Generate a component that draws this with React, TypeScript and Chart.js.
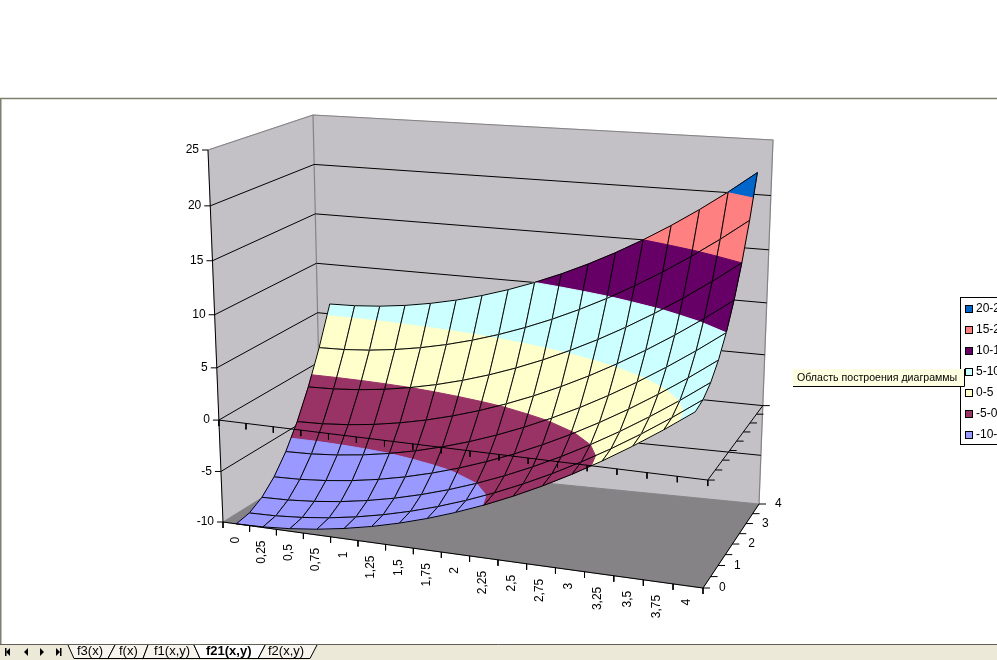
import React, { useEffect, useRef } from "react";
import { Chart, registerables } from "chart.js";

Chart.register(...registerables);

// ---- data ----
const xLabels = ["0", "0,25", "0,5", "0,75", "1", "1,25", "1,5", "1,75", "2", "2,25", "2,5", "2,75", "3", "3,25", "3,5", "3,75", "4"];
const yLabels = ["0", "1", "2", "3", "4"];
const zLabels = [-10, -5, 0, 5, 10, 15, 20, 25];

const zAtY0 = [-10, -9.94, -9.75, -9.44, -9, -8.44, -7.75, -6.94, -6, -4.94, -3.75, -2.44, -1, 0.56, 2.25, 4.06, 6];
const zAtY05 = [-9.75, -9.69, -9.5, -9.19, -8.75, -8.19, -7.5, -6.69, -5.75, -4.69, -3.5, -2.19, -0.75, 0.81, 2.5, 4.31, 6.25];
const zAtY1 = [-9, -8.94, -8.75, -8.44, -8, -7.44, -6.75, -5.94, -5, -3.94, -2.75, -1.44, 0, 1.56, 3.25, 5.06, 7];
const zAtY15 = [-7.75, -7.69, -7.5, -7.19, -6.75, -6.19, -5.5, -4.69, -3.75, -2.69, -1.5, -0.19, 1.25, 2.81, 4.5, 6.31, 8.25];
const zAtY2 = [-6, -5.94, -5.75, -5.44, -5, -4.44, -3.75, -2.94, -2, -0.94, 0.25, 1.56, 3, 4.56, 6.25, 8.06, 10];
const zAtY25 = [-3.75, -3.69, -3.5, -3.19, -2.75, -2.19, -1.5, -0.69, 0.25, 1.31, 2.5, 3.81, 5.25, 6.81, 8.5, 10.31, 12.25];
const zAtY3 = [-1, -0.94, -0.75, -0.44, 0, 0.56, 1.25, 2.06, 3, 4.06, 5.25, 6.56, 8, 9.56, 11.25, 13.06, 15];
const zAtY35 = [2.25, 2.31, 2.5, 2.81, 3.25, 3.81, 4.5, 5.31, 6.25, 7.31, 8.5, 9.81, 11.25, 12.81, 14.5, 16.31, 18.25];
const zAtY4 = [6, 6.06, 6.25, 6.56, 7, 7.56, 8.25, 9.06, 10, 11.06, 12.25, 13.56, 15, 16.56, 18.25, 20.06, 22];
const surfaceRows = [zAtY0, zAtY05, zAtY1, zAtY15, zAtY2, zAtY25, zAtY3, zAtY35, zAtY4];

const bandNames = ["20-25", "15-20", "10-15", "5-10", "0-5", "-5-0", "-10--5"];
const bandLows = [20, 15, 10, 5, 0, -5, -10];
const bandColors = ["#0066CC", "#FF8080", "#660066", "#CCFFFF", "#FFFFCC", "#993366", "#9999FF"];
const sheetTabs = ["f3(x)", "f(x)", "f1(x,y)", "f21(x,y)", "f2(x,y)"];
const tooltipText = "Область построения диаграммы";

// ---- layout: the 3D box as it appears in the window ----
type P = [number, number];
const BOX: Record<string, P> = {
  b00: [223, 522], b10: [703, 588], b11: [759, 504], b01: [321, 461],
  t00: [208, 150], t10: [720.5, 194], t11: [773, 140], t01: [313, 115],
};
const warpX = 1.065, warpY = 0.91;
const warp = (t: number, r: number) => t / (t + r * (1 - t));
const lerp = (a: number, b: number, t: number) => a + (b - a) * t;

// u: 0..1 along the category axis, v: 0..1 along the series axis, z: value
function project(u: number, v: number, z: number) {
  const a = warp(u, warpX), b = warp(v, warpY);
  // perspective on the vertical axis differs per corner of the box
  const warpZ = lerp(lerp(1.06, 1.06, a), lerp(1.0, 1.08, a), b);
  const c = warp((z + 10) / 35, warpZ);
  const corner = (k: 0 | 1) => {
    const f = lerp(lerp(BOX.b00[k], BOX.b10[k], a), lerp(BOX.b01[k], BOX.b11[k], a), b);
    const g = lerp(lerp(BOX.t00[k], BOX.t10[k], a), lerp(BOX.t01[k], BOX.t11[k], a), b);
    return lerp(f, g, c);
  };
  return { x: corner(0), y: corner(1) };
}

const nX = xLabels.length;
const nY = surfaceRows.length;
const uCell = (i: number) => (i + 0.5) / nX; // surface points sit mid-category
const vRow = (j: number) => j / (nY - 1);

type V = { i: number; j: number; z: number };
function clip(poly: V[], keep: (z: number) => boolean, level: number) {
  const out: V[] = [];
  for (let k = 0; k < poly.length; k++) {
    const a = poly[k], b = poly[(k + 1) % poly.length];
    const ka = keep(a.z), kb = keep(b.z);
    if (ka) out.push(a);
    if (ka !== kb) {
      const t = (level - a.z) / (b.z - a.z);
      out.push({ i: lerp(a.i, b.i, t), j: lerp(a.j, b.j, t), z: level });
    }
  }
  return out;
}
const toXY = (v: V) => project(uCell(v.i), vRow(v.j), v.z);

function buildDatasets() {
  const ds: any[] = [];
  const fillPoly = (pts: { x: number; y: number }[], color: string, border = color, bw = 1) =>
    ds.push({ data: [...pts, pts[0]], showLine: true, fill: "shape", backgroundColor: color, borderColor: border, borderWidth: bw, pointRadius: 0, tension: 0 });
  const line = (pts: { x: number; y: number }[], color = "#000000", bw = 1) =>
    ds.push({ data: pts, showLine: true, fill: false, borderColor: color, borderWidth: bw, pointRadius: 0, tension: 0 });

  // walls and floor
  const wallColor = "#C3C1C5", floorColor = "#858385", edge = "#858385";
  fillPoly([project(0, 0, -10), project(0, 1, -10), project(0, 1, 25), project(0, 0, 25)], wallColor);
  fillPoly([project(0, 1, -10), project(1, 1, -10), project(1, 1, 25), project(0, 1, 25)], wallColor);
  fillPoly([project(0, 0, -10), project(1, 0, -10), project(1, 1, -10), project(0, 1, -10)], floorColor);
  line([project(0, 0, 25), project(0, 1, 25), project(1, 1, 25), project(1, 1, -10)], edge, 1.2);
  line([project(0, 1, 25), project(0, 1, -10)], edge, 1.2);
  // value gridlines
  zLabels.slice(1, -1).forEach((z) => line([project(0, 0, z), project(0, 1, z), project(1, 1, z)]));

  // surface, back to front
  for (let j = nY - 2; j >= 0; j--) {
    for (let i = 0; i < nX - 1; i++) {
      const quad: V[] = [
        { i, j, z: surfaceRows[j][i] },
        { i: i + 1, j, z: surfaceRows[j][i + 1] },
        { i: i + 1, j: j + 1, z: surfaceRows[j + 1][i + 1] },
        { i, j: j + 1, z: surfaceRows[j + 1][i] },
      ];
      bandLows.forEach((lo, b) => {
        const hi = lo + 5;
        let p = clip(quad, (z) => z >= lo, lo);
        if (p.length) p = clip(p, (z) => z <= hi, hi);
        if (p.length >= 3) fillPoly(p.map(toXY), bandColors[b]);
      });
      line([...quad, quad[0]].map(toXY));
    }
  }

  // axes and tick marks
  const ticks = (axisZ: number) => {
    line([project(0, 0, axisZ), project(1, 0, axisZ), project(1, 1, axisZ)]);
    for (let i = 0; i <= nX; i++) {
      const p = project(i / nX, 0, axisZ);
      line([p, { x: p.x, y: p.y + 6 }]);
    }
    for (let j = 0; j < nY; j++) {
      const p = project(1, vRow(j), axisZ);
      line([p, { x: p.x + 7, y: p.y }]);
    }
  };
  ticks(0);
  ticks(-10);
  line([project(0, 0, -10), project(0, 0, 25)]);
  zLabels.forEach((z) => {
    const p = project(0, 0, z);
    line([p, { x: p.x - 6, y: p.y }]);
  });
  return ds.reverse(); // chart.js paints the first dataset last
}

const annotationPlugin = {
  id: "annotations",
  afterDraw(chart: any) {
    const { ctx } = chart;
    const sx = (v: number) => chart.scales.x.getPixelForValue(v);
    const sy = (v: number) => chart.scales.y.getPixelForValue(v);
    ctx.save();
    ctx.fillStyle = "#000";
    ctx.font = "12px 'Liberation Sans', Arial, sans-serif";

    // value axis labels
    ctx.textAlign = "right";
    ctx.textBaseline = "middle";
    zLabels.forEach((z) => {
      const p = project(0, 0, z);
      ctx.fillText(String(z), sx(p.x) - 9, sy(p.y));
    });
    // series axis labels
    ctx.textAlign = "left";
    yLabels.forEach((t, k) => {
      const p = project(1, k / (yLabels.length - 1), -10);
      ctx.fillText(t, sx(p.x) + 16, sy(p.y));
    });
    // category axis labels
    xLabels.forEach((t, i) => {
      const p = project(uCell(i), 0, -10);
      ctx.save();
      ctx.translate(sx(p.x) - 1, sy(p.y) + 13);
      ctx.rotate(-Math.PI / 2);
      ctx.textAlign = "right";
      ctx.fillText(t, 0, 0);
      ctx.restore();
    });

    // window frame
    ctx.strokeStyle = "#7F7F70";
    ctx.lineWidth = 1.5;
    ctx.beginPath();
    ctx.moveTo(0, 98.5); ctx.lineTo(997, 98.5);
    ctx.moveTo(0.75, 98.5); ctx.lineTo(0.75, 644);
    ctx.stroke();
    ctx.lineWidth = 1;

    // legend (runs past the window edge as in the original)
    ctx.fillStyle = "#fff";
    ctx.fillRect(960.5, 297.5, 60, 147);
    ctx.strokeStyle = "#000";
    ctx.strokeRect(960.5, 297.5, 60, 147);
    ctx.textAlign = "left";
    bandNames.forEach((name, k) => {
      const y = 309 + k * 21;
      ctx.fillStyle = bandColors[k];
      ctx.fillRect(965.5, y - 3.5, 7, 7);
      ctx.strokeStyle = "#000";
      ctx.strokeRect(965.5, y - 3.5, 7, 7);
      ctx.fillStyle = "#000";
      ctx.fillText(name, 976, y);
    });

    // tooltip
    ctx.fillStyle = "#FFFFE1";
    ctx.fillRect(793, 369, 171, 17);
    ctx.strokeStyle = "#000";
    ctx.beginPath();
    ctx.moveTo(964.5, 369); ctx.lineTo(964.5, 386.5); ctx.lineTo(793, 386.5);
    ctx.stroke();
    ctx.fillStyle = "#000";
    ctx.font = "10.6px 'Liberation Sans', Arial, sans-serif";
    ctx.fillText(tooltipText, 797, 378);

    // sheet tab bar
    ctx.fillStyle = "#ECE9D8";
    ctx.fillRect(0, 644, 997, 16);
    ctx.strokeStyle = "#5F5F55";
    ctx.beginPath();
    ctx.moveTo(0, 644.5); ctx.lineTo(997, 644.5);
    ctx.stroke();
    // navigation arrows
    ctx.fillStyle = "#000";
    const tri = (x: number, dir: number) => {
      ctx.beginPath();
      ctx.moveTo(x + dir * 4, 648); ctx.lineTo(x + dir * 4, 656); ctx.lineTo(x, 652); ctx.closePath();
      ctx.fill();
    };
    tri(6, 1); ctx.fillRect(5, 648, 1.5, 8);
    tri(24, 1);
    tri(44, -1);
    tri(60, -1); ctx.fillRect(60, 648, 1.5, 8);

    // tabs: top and bottom x of each slanted divider
    const tabTop = [68, 115, 148, 194, 265, 317];
    const tabBot = [74, 108, 143, 200, 258, 310];
    const textX = [77, 119, 154, 206, 268];
    const tabShape = (k: number) => {
      ctx.beginPath();
      ctx.moveTo(tabTop[k], 645);
      ctx.lineTo(tabBot[k], 658.5);
      ctx.lineTo(tabBot[k + 1], 658.5);
      ctx.lineTo(tabTop[k + 1], 645);
    };
    sheetTabs.forEach((_, k) => {
      if (k === 3) return;
      tabShape(k);
      ctx.fillStyle = "#F6F4EC";
      ctx.fill();
      ctx.strokeStyle = "#000";
      ctx.stroke();
    });
    tabShape(3);
    ctx.fillStyle = "#fff";
    ctx.fill();
    ctx.strokeStyle = "#000";
    ctx.stroke();
    ctx.fillStyle = "#000";
    ctx.textBaseline = "alphabetic";
    sheetTabs.forEach((t, k) => {
      ctx.font = (k === 3 ? "bold " : "") + "13px 'Liberation Sans', Arial, sans-serif";
      ctx.fillText(t, textX[k], 655);
    });
    ctx.restore();
  },
};

export default function App() {
  const ref = useRef<HTMLCanvasElement>(null);
  useEffect(() => {
    const chart = new Chart(ref.current!, {
      type: "scatter",
      data: { datasets: buildDatasets() },
      options: {
        responsive: false,
        animation: false,
        devicePixelRatio: 1,
        layout: { padding: 0 },
        events: [],
        plugins: { legend: { display: false }, tooltip: { enabled: false } },
        scales: {
          x: { type: "linear", display: false, min: 0, max: 997 },
          y: { type: "linear", display: false, min: 0, max: 660, reverse: true },
        },
      },
      plugins: [annotationPlugin],
    } as any);
    return () => chart.destroy();
  }, []);
  return (
    <div style={{ position: "fixed", left: 0, top: 0, width: 997, height: 660, overflow: "hidden", background: "#fff" }}>
      <canvas ref={ref} width={997} height={660} style={{ display: "block" }} />
    </div>
  );
}
